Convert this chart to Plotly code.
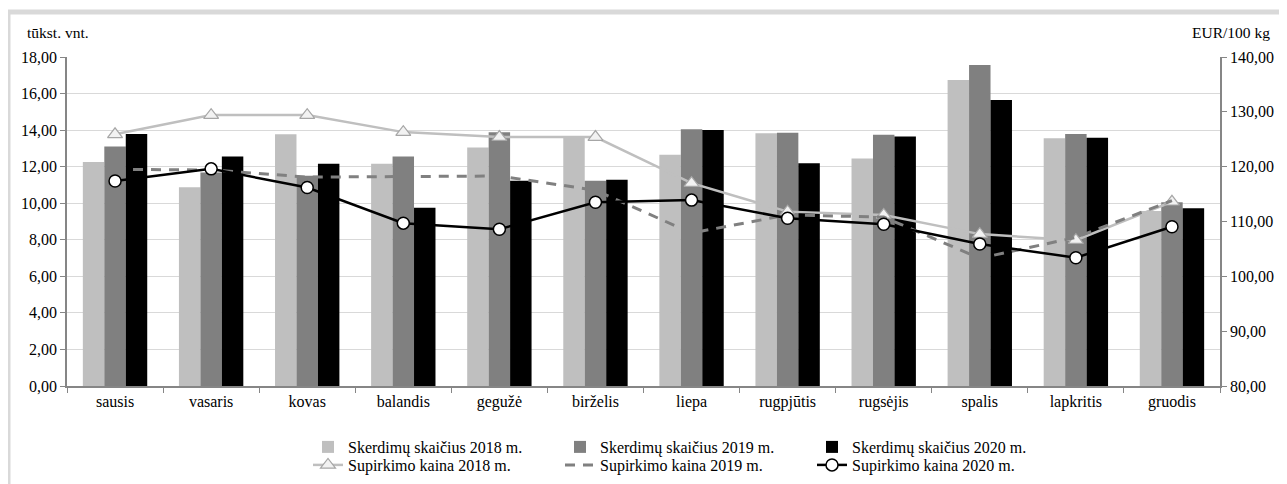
import plotly.graph_objects as go

months = ["sausis", "vasaris", "kovas", "balandis", "gegužė", "birželis",
          "liepa", "rugpjūtis", "rugsėjis", "spalis", "lapkritis", "gruodis"]

slaughter_2018 = [12.25, 10.88, 13.78, 12.16, 13.05, 13.65, 12.65, 13.83, 12.45, 16.74, 13.55, 9.57]
slaughter_2019 = [13.10, 11.68, 11.50, 12.55, 13.88, 11.23, 14.05, 13.86, 13.74, 17.56, 13.79, 10.05]
slaughter_2020 = [13.79, 12.55, 12.16, 9.75, 11.23, 11.28, 14.01, 12.19, 13.65, 15.65, 13.58, 9.72]

price_2018 = [125.9, 129.4, 129.4, 126.3, 125.4, 125.4, 117.0, 111.8, 111.2, 107.7, 106.6, 113.6]
price_2019 = [119.5, 119.4, 118.1, 118.25, 118.3, 115.7, 107.9, 111.2, 110.8, 103.3, 107.1, 113.8]
price_2020 = [117.4, 119.6, 116.2, 109.7, 108.6, 113.5, 113.9, 110.6, 109.5, 105.9, 103.4, 109.05]

left_title = "tūkst. vnt."
right_title = "EUR/100 kg"

FONT = "Liberation Serif, Times New Roman, DejaVu Serif, serif"

# page body has an 8px margin; figure is sized/placed to compensate
W, H = 1279, 476
OFF = 8
PL, PR, PT, PB = 67, 1220, 57, 386  # plot area in screenshot pixels
PW, PH = PR - PL, PB - PT

fig = go.Figure()

bar_specs = [
    ("Skerdimų skaičius 2018 m.", slaughter_2018, "#bfbfbf"),
    ("Skerdimų skaičius 2019 m.", slaughter_2019, "#808080"),
    ("Skerdimų skaičius 2020 m.", slaughter_2020, "#000000"),
]
for name, vals, col in bar_specs:
    fig.add_trace(go.Bar(x=months, y=vals, name=name, marker_color=col,
                         marker_line_width=0, legend="legend", yaxis="y"))

fig.add_trace(go.Scatter(
    x=months, y=price_2018, name="Supirkimo kaina 2018 m.", mode="lines+markers",
    line=dict(color="#bfbfbf", width=2.5),
    marker=dict(symbol="triangle-up", size=13, color="#f2f2f2",
                line=dict(color="#a6a6a6", width=1.2)),
    yaxis="y2", legend="legend2"))
fig.add_trace(go.Scatter(
    x=months, y=price_2019, name="Supirkimo kaina 2019 m.", mode="lines",
    line=dict(color="#808080", width=3, dash="10px,8px"),
    yaxis="y2", legend="legend2"))
fig.add_trace(go.Scatter(
    x=months, y=price_2020, name="Supirkimo kaina 2020 m.", mode="lines+markers",
    line=dict(color="#000000", width=2.5),
    marker=dict(symbol="circle", size=12, color="#ffffff",
                line=dict(color="#000000", width=1.5)),
    yaxis="y2", legend="legend2"))

legend_common = dict(orientation="h", xref="container", yref="container",
                     x=(308 - OFF) / W, xanchor="left", yanchor="middle",
                     entrywidth=207, entrywidthmode="pixels",
                     font=dict(size=16, family=FONT, color="#000000"),
                     bgcolor="rgba(0,0,0,0)")

fig.update_layout(
    width=W, height=H,
    margin=dict(l=PL - OFF, r=W - (PR - OFF), t=PT - OFF, b=H - (PB - OFF), autoexpand=False),
    paper_bgcolor="white", plot_bgcolor="white",
    font=dict(family=FONT, size=16, color="#000000"),
    separators=", ",
    barmode="group", bargap=0.33, bargroupgap=0,
    xaxis=dict(range=[-0.5, 11.5], showline=True, linecolor="#868686", linewidth=1.5,
               automargin=False, ticks="outside", tickson="boundaries", ticklen=5,
               tickcolor="#868686", showgrid=False, tickfont=dict(size=16, family=FONT)),
    yaxis=dict(range=[0, 18], dtick=2, tickformat=".2f", showline=True, automargin=False,
               linecolor="#868686", linewidth=1.5, ticks="outside", ticklen=5,
               tickcolor="#868686", gridcolor="#d9d9d9", gridwidth=1,
               zeroline=False, tickfont=dict(size=16, family=FONT)),
    yaxis2=dict(range=[80, 140], dtick=10, tickformat=".2f", overlaying="y",
                side="right", showline=True, linecolor="#868686", linewidth=1.5,
                automargin=False,
                ticks="outside", ticklen=5, tickcolor="#868686", showgrid=False,
                zeroline=False, tickfont=dict(size=16, family=FONT)),
    legend=dict(y=1 - (447 - OFF) / H, **legend_common),
    legend2=dict(y=1 - (465 - OFF) / H, **legend_common),
    annotations=[
        dict(text=left_title, xref="paper", yref="paper", x=(25 - PL) / PW, y=(PB - 33) / PH,
             xanchor="left", yanchor="middle", showarrow=False,
             font=dict(size=15.5, family=FONT)),
        dict(text=right_title, xref="paper", yref="paper", x=(1272 - PL) / PW, y=(PB - 33) / PH,
             xanchor="right", yanchor="middle", showarrow=False,
             font=dict(size=15.5, family=FONT)),
    ],
    shapes=[
        dict(type="rect", xref="paper", yref="paper",
             x0=(8 - PL) / PW, x1=(1284 - PL) / PW,
             y0=(PB - 500) / PH, y1=(PB - 12) / PH,
             line=dict(color="#d9d9d9", width=5), fillcolor="rgba(0,0,0,0)",
             layer="below"),
    ],
)

fig.write_html("out.html")
